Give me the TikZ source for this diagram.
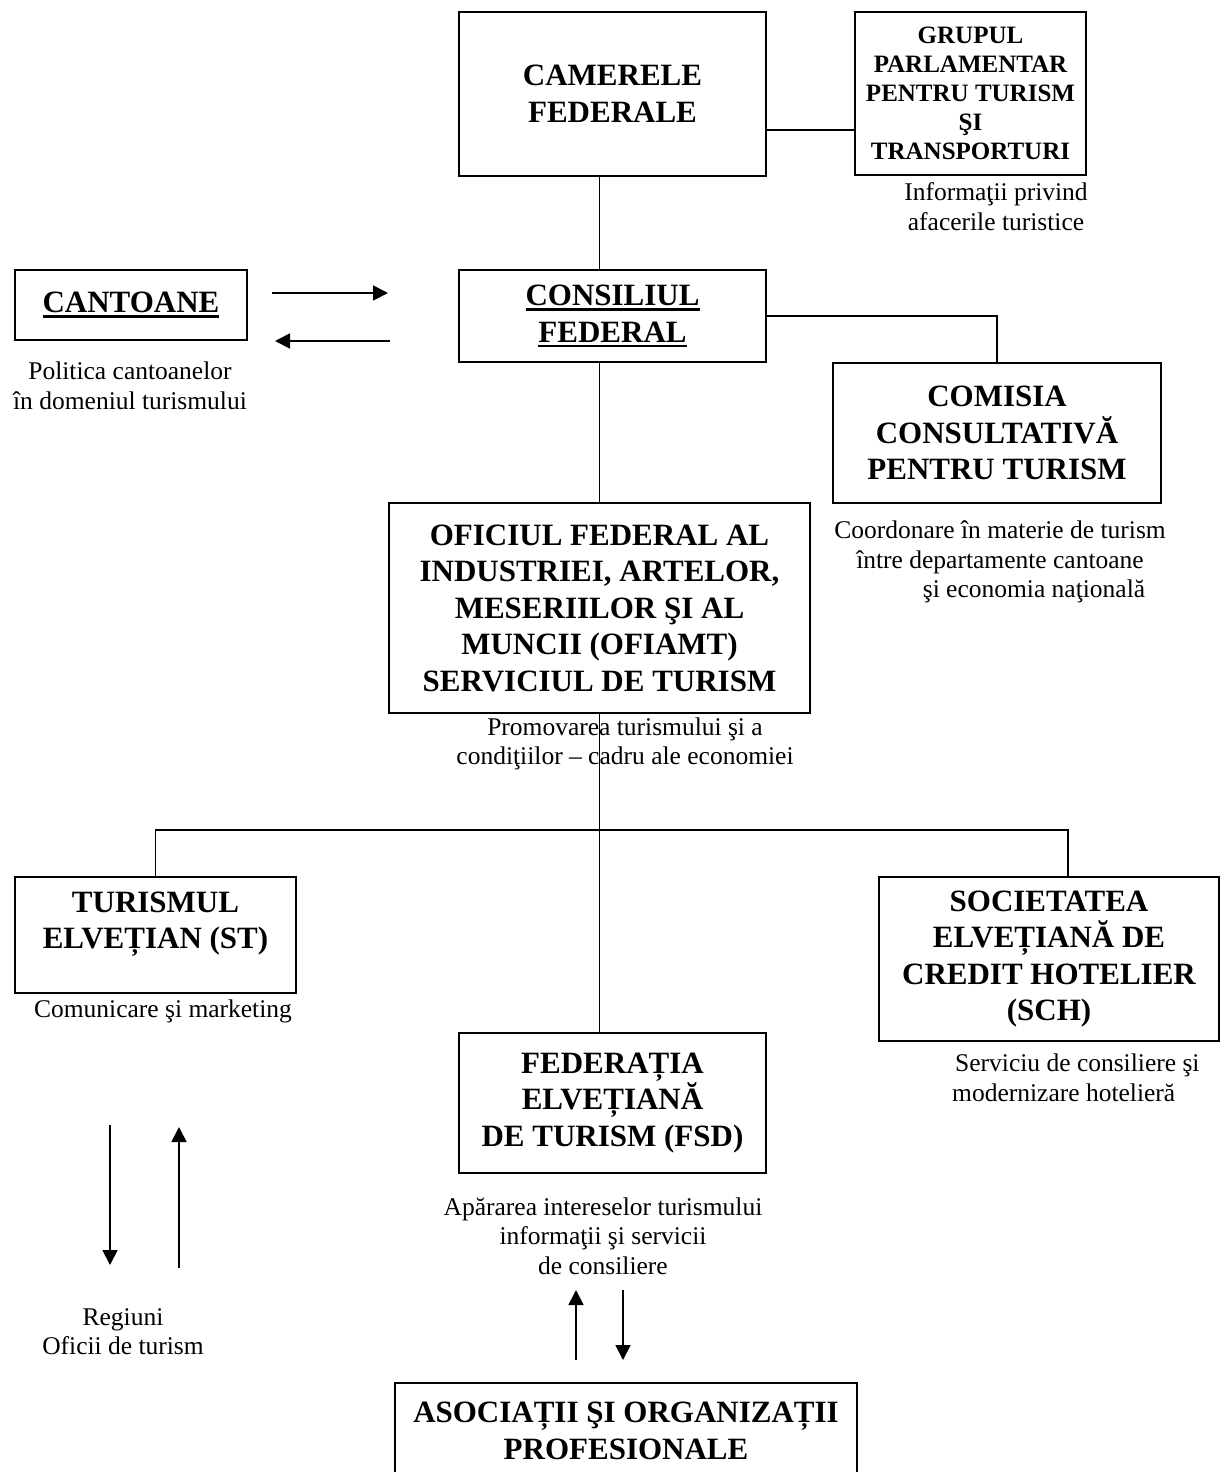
\documentclass[tikz,border=0pt]{standalone}
\usepackage{fontspec}
\setmainfont{Liberation Serif}
\usetikzlibrary{arrows.meta,calc}
\newcommand\myul[1]{\setbox0\hbox{#1}\rlap{\rule[-5pt]{\wd0}{2.4pt}}\box0}
\tikzset{
  box/.style={draw, line width=1.9pt, inner sep=0pt, align=center,
    font=\fontsize{31}{36.5}\selectfont\bfseries},
  smallbox/.style={box, font=\fontsize{25}{29}\selectfont\bfseries},
  boxtext/.style={inner sep=0pt, align=center, font=\fontsize{31}{36.5}\selectfont\bfseries},
  note/.style={inner sep=0pt, align=center, font=\fontsize{25.5}{29.5}\selectfont},
  link/.style={line width=1.8pt},
  arr/.style={line width=1.8pt, -{Triangle[length=15pt,width=15pt]}},
}
\begin{document}
\begin{tikzpicture}[x=1pt,y=-1pt]
\useasboundingbox (0,0) rectangle (1221,1472);
\clip (0,0) rectangle (1221,1472);

% boxes
\node[box, minimum width=307pt, minimum height=164pt] (cam) at (612.5,94) {CAMERELE\\FEDERALE};
\node[smallbox, minimum width=231pt, minimum height=163pt] (grup) at (970.5,93.5) {GRUPUL\\PARLAMENTAR\\PENTRU TURISM\\ŞI\\TRANSPORTURI};
\node[box, minimum width=232pt, minimum height=70pt] (cant) at (131,305) {\myul{CANTOANE}};
\node[box, minimum width=307pt, minimum height=92pt] (cons) at (612.5,316) {\myul{CONSILIUL}\\\myul{FEDERAL}};
\node[box, minimum width=328pt, minimum height=140pt] (com) at (997,433) {COMISIA\\CONSULTATIVĂ\\PENTRU TURISM};
\node[box, minimum width=421pt, minimum height=210pt] (ofi) at (599.5,608) {OFICIUL FEDERAL AL\\INDUSTRIEI, ARTELOR,\\MESERIILOR ŞI AL\\MUNCII (OFIAMT)\\SERVICIUL DE TURISM};
\node[box, minimum width=281pt, minimum height=116pt] (st) at (155.5,935) {};
\node[boxtext] (sttext) at (155.5,924) {TURISMUL\\ELVEȚIAN (ST)};
\node[box, minimum width=340pt, minimum height=164pt] (sch) at (1049,959) {SOCIETATEA\\ELVEȚIANĂ DE\\CREDIT HOTELIER\\(SCH)};
\node[box, minimum width=307pt, minimum height=140pt] (fsd) at (612.5,1103) {FEDERAȚIA\\ELVEȚIANĂ\\DE TURISM (FSD)};
\node[box, minimum width=462pt, minimum height=130pt] (aso) at (626,1448) {};
\node[boxtext] (asotext) at (626,1431) {ASOCIAȚII ŞI ORGANIZAȚII\\PROFESIONALE};

% notes
\node[note] (ngrup) at (996,206.5) {Informaţii privind\\afacerile turistice};
\node[note] (ncant) at (130,386) {Politica cantoanelor\\în domeniul turismului};
\node[note] (ncom) at (1000,562) {Coordonare în materie de turism\\între departamente cantoane\\\hspace*{68pt}şi economia naţională};
\node[note] (nofi) at (625,744) {Promovarea turismului şi a\\condiţiilor – cadru ale economiei};
\node[note] (nst) at (163,1011) {Comunicare şi marketing};
\node[note, align=left, anchor=north west] (nsch) at (952,1054) {\hspace*{3pt}Serviciu de consiliere şi\\modernizare hotelieră};
\node[note] (nfsd) at (603,1236) {Apărarea intereselor turismului\\informaţii şi servicii\\de consiliere};
\node[note] (nreg) at (123,1331.5) {Regiuni\\Oficii de turism};

% connectors
\draw[link] ([yshift=-36pt]cam.east) -- ([yshift=-36pt]cam.east -| grup.west);
\draw[link] (cam.south -| ofi.north) -- (cons.north -| ofi.north);
\draw[link] (cons.east) -| (com.north);
\draw[link] (cons.south -| ofi.north) -- (ofi.north);
\draw[link] (ofi.south) -- (ofi.south |- fsd.north);
\coordinate (busL) at (155.5,830);
\coordinate (busR) at (1068,830);
\draw[link] (st.north) -- (busL) -- (busR) -- (busR |- sch.north);

% free arrows
\coordinate (a1s) at (272,293); \coordinate (a1e) at (388,293);
\coordinate (a2s) at (390,341); \coordinate (a2e) at (275,341);
\draw[arr] (a1s) -- (a1e);
\draw[arr] (a2s) -- (a2e);
\coordinate (b1s) at (110,1125); \coordinate (b1e) at (110,1265);
\coordinate (b2s) at (179,1268); \coordinate (b2e) at (179,1127);
\draw[arr] (b1s) -- (b1e);
\draw[arr] (b2s) -- (b2e);
\coordinate (c1s) at (576,1360); \coordinate (c1e) at (576,1290);
\coordinate (c2s) at (623,1290); \coordinate (c2e) at (623,1360);
\draw[arr] (c1s) -- (c1e);
\draw[arr] (c2s) -- (c2e);
\end{tikzpicture}
\end{document}
